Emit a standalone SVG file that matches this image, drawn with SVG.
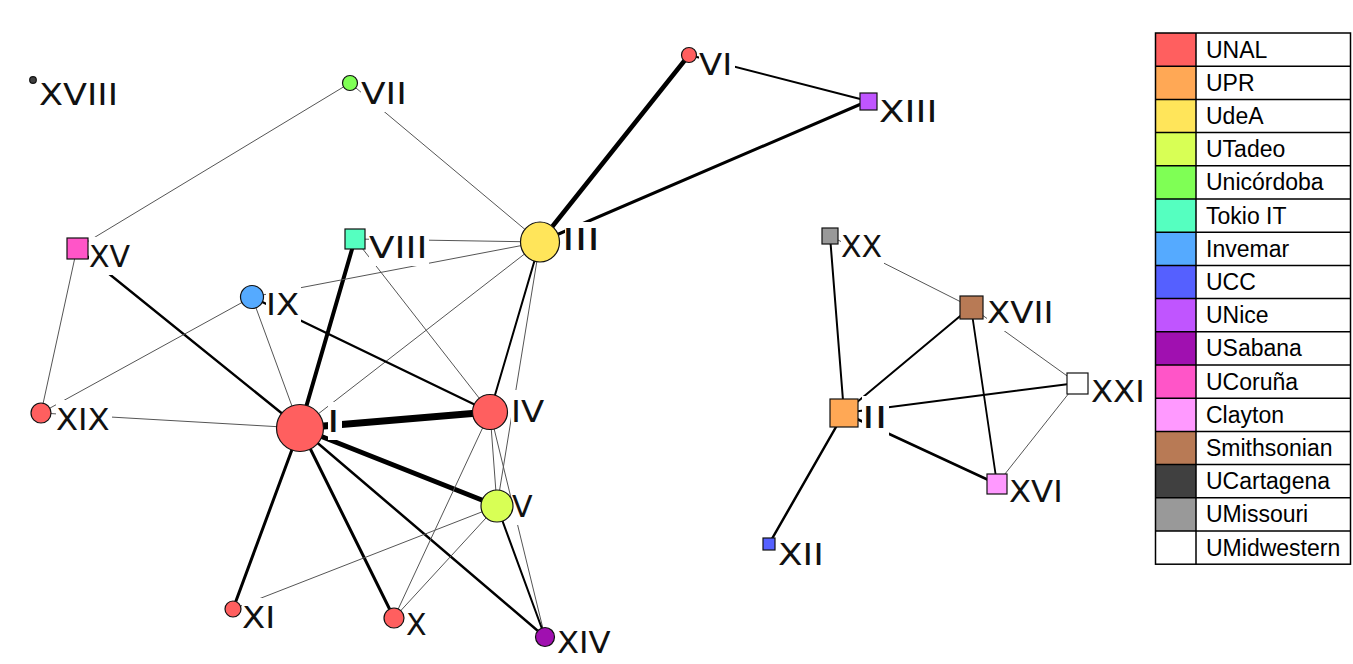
<svg xmlns="http://www.w3.org/2000/svg" width="1353" height="664" viewBox="0 0 1353 664">
<style>
.e{stroke:#000;fill:none;stroke-linecap:round}
.t{stroke:#555;stroke-width:1;fill:none}
.n{stroke:#111;stroke-width:1.2}
.bg{fill:#fff}
.lb{font-family:"DejaVu Sans","Liberation Sans",sans-serif;font-size:30px;fill:#111}
.lg{font-family:"Liberation Sans",Arial,sans-serif;font-size:23px;fill:#000}
.c1{fill:#FF5F5F}.c2{fill:#FFA855}.c3{fill:#FFE55A}.c4{fill:#D8FF55}.c5{fill:#7FFF55}.c6{fill:#55FFC0}.c7{fill:#55AAFF}.c8{fill:#5560FF}.c9{fill:#C055FF}.c10{fill:#A010B0}.c11{fill:#FF55C8}.c12{fill:#FF99FF}.c13{fill:#B87A55}.c14{fill:#404040}.c15{fill:#999999}.c16{fill:#FFFFFF}
</style>
<rect width="1353" height="664" fill="#fff"/>
<g id="connectors">
<line class="e" x1="300" y1="428" x2="490" y2="412" stroke-width="7"/>
<line class="e" x1="300" y1="428" x2="497" y2="506" stroke-width="5"/>
<line class="e" x1="300" y1="428" x2="355" y2="239" stroke-width="4"/>
<line class="e" x1="300" y1="428" x2="77" y2="248" stroke-width="2.5"/>
<line class="e" x1="300" y1="428" x2="233" y2="609" stroke-width="3"/>
<line class="e" x1="300" y1="428" x2="394" y2="618" stroke-width="3"/>
<line class="e" x1="300" y1="428" x2="545" y2="637" stroke-width="2.5"/>
<line class="t" x1="300" y1="428" x2="252" y2="297"/>
<line class="t" x1="300" y1="428" x2="41" y2="413"/>
<line class="t" x1="300" y1="428" x2="540" y2="242"/>
<line class="e" x1="252" y1="297" x2="490" y2="412" stroke-width="2.2"/>
<line class="t" x1="252" y1="297" x2="540" y2="242"/>
<line class="t" x1="252" y1="297" x2="41" y2="413"/>
<line class="t" x1="355" y1="239" x2="540" y2="242"/>
<line class="t" x1="355" y1="239" x2="490" y2="412"/>
<line class="e" x1="540" y1="242" x2="490" y2="412" stroke-width="2"/>
<line class="t" x1="540" y1="242" x2="497" y2="506"/>
<line class="e" x1="540" y1="242" x2="689" y2="55" stroke-width="4.5"/>
<line class="e" x1="540" y1="242" x2="868" y2="101" stroke-width="3"/>
<line class="e" x1="689" y1="55" x2="868" y2="101" stroke-width="2"/>
<line class="t" x1="350" y1="83" x2="540" y2="242"/>
<line class="t" x1="350" y1="83" x2="77" y2="248"/>
<line class="t" x1="77" y1="248" x2="41" y2="413"/>
<line class="t" x1="490" y1="412" x2="497" y2="506"/>
<line class="t" x1="490" y1="412" x2="394" y2="618"/>
<line class="t" x1="490" y1="412" x2="545" y2="637"/>
<line class="t" x1="497" y1="506" x2="394" y2="618"/>
<line class="t" x1="497" y1="506" x2="233" y2="609"/>
<line class="e" x1="497" y1="506" x2="545" y2="637" stroke-width="2"/>
<line class="e" x1="830" y1="236" x2="844" y2="413" stroke-width="2"/>
<line class="t" x1="830" y1="236" x2="971" y2="307"/>
<line class="e" x1="971" y1="307" x2="844" y2="413" stroke-width="2"/>
<line class="e" x1="971" y1="307" x2="997" y2="484" stroke-width="1.8"/>
<line class="t" x1="971" y1="307" x2="1077" y2="383"/>
<line class="e" x1="844" y1="413" x2="1077" y2="383" stroke-width="2"/>
<line class="e" x1="844" y1="413" x2="997" y2="484" stroke-width="2.5"/>
<line class="t" x1="1077" y1="383" x2="997" y2="484"/>
<line class="e" x1="844" y1="413" x2="769" y2="544" stroke-width="2.5"/>
</g>
<g id="label-bg">
<rect class="bg" x="39" y="75" width="81" height="38"/>
<rect class="bg" x="361" y="74" width="48" height="38"/>
<rect class="bg" x="699" y="45" width="36" height="38"/>
<rect class="bg" x="879" y="92" width="60" height="38"/>
<rect class="bg" x="89" y="237" width="43" height="38"/>
<rect class="bg" x="369" y="228" width="60" height="38"/>
<rect class="bg" x="565" y="222" width="37" height="36"/>
<rect class="bg" x="266" y="285" width="35" height="38"/>
<rect class="bg" x="56" y="400" width="56" height="38"/>
<rect class="bg" x="328" y="402" width="14" height="38"/>
<rect class="bg" x="511" y="390" width="35" height="40"/>
<rect class="bg" x="512" y="487" width="23" height="38"/>
<rect class="bg" x="242" y="598" width="35" height="38"/>
<rect class="bg" x="406" y="605" width="23" height="38"/>
<rect class="bg" x="557" y="623" width="56" height="38"/>
<rect class="bg" x="841" y="227" width="43" height="38"/>
<rect class="bg" x="987" y="293" width="68" height="38"/>
<rect class="bg" x="1091" y="372" width="56" height="38"/>
<rect class="bg" x="862" y="396" width="27" height="40"/>
<rect class="bg" x="1009" y="472" width="56" height="38"/>
<rect class="bg" x="778" y="535" width="48" height="38"/>
</g>
<g id="node-I"><circle class="n c1" cx="300" cy="428" r="23.5"/><text class="lb" x="327" y="432" textLength="12.6" lengthAdjust="spacingAndGlyphs">I</text></g>
<g id="node-II"><rect class="n c2" x="830" y="399" width="28" height="28"/><text class="lb" x="862" y="428" textLength="25.3" lengthAdjust="spacingAndGlyphs">II</text></g>
<g id="node-III"><ellipse class="n c3" cx="540" cy="242" rx="19.5" ry="20"/><text class="lb" x="562" y="250" textLength="37.9" lengthAdjust="spacingAndGlyphs">III</text></g>
<g id="node-IV"><circle class="n c1" cx="490" cy="412" r="17.5"/><text class="lb" x="511" y="422" textLength="33.2" lengthAdjust="spacingAndGlyphs">IV</text></g>
<g id="node-V"><circle class="n c4" cx="497" cy="506" r="16"/><text class="lb" x="512" y="517" textLength="20.6" lengthAdjust="spacingAndGlyphs">V</text></g>
<g id="node-VI"><circle class="n c1" cx="689" cy="55" r="7.5"/><text class="lb" x="699" y="75" textLength="33.2" lengthAdjust="spacingAndGlyphs">VI</text></g>
<g id="node-VII"><circle class="n c5" cx="350" cy="83" r="7.5"/><text class="lb" x="361" y="104" textLength="45.8" lengthAdjust="spacingAndGlyphs">VII</text></g>
<g id="node-VIII"><rect class="n c6" x="345" y="229" width="20" height="20"/><text class="lb" x="369" y="258" textLength="58.4" lengthAdjust="spacingAndGlyphs">VIII</text></g>
<g id="node-IX"><circle class="n c7" cx="252" cy="297" r="11.5"/><text class="lb" x="266" y="315" textLength="33.2" lengthAdjust="spacingAndGlyphs">IX</text></g>
<g id="node-X"><circle class="n c1" cx="394" cy="618" r="10"/><text class="lb" x="406" y="635" textLength="20.6" lengthAdjust="spacingAndGlyphs">X</text></g>
<g id="node-XI"><circle class="n c1" cx="233" cy="609" r="8"/><text class="lb" x="242" y="628" textLength="33.2" lengthAdjust="spacingAndGlyphs">XI</text></g>
<g id="node-XII"><rect class="n c8" x="763" y="538" width="12" height="12"/><text class="lb" x="778" y="565" textLength="45.8" lengthAdjust="spacingAndGlyphs">XII</text></g>
<g id="node-XIII"><rect class="n c9" x="860" y="93" width="17" height="17"/><text class="lb" x="879" y="122" textLength="58.4" lengthAdjust="spacingAndGlyphs">XIII</text></g>
<g id="node-XIV"><circle class="n c10" cx="545" cy="637" r="9.5"/><text class="lb" x="557" y="653" textLength="53.7" lengthAdjust="spacingAndGlyphs">XIV</text></g>
<g id="node-XV"><rect class="n c11" x="67" y="238" width="21" height="21"/><text class="lb" x="89" y="267" textLength="41.1" lengthAdjust="spacingAndGlyphs">XV</text></g>
<g id="node-XVI"><rect class="n c12" x="987" y="474" width="20" height="20"/><text class="lb" x="1009" y="502" textLength="53.7" lengthAdjust="spacingAndGlyphs">XVI</text></g>
<g id="node-XVII"><rect class="n c13" x="960" y="296" width="23" height="23"/><text class="lb" x="987" y="323" textLength="66.4" lengthAdjust="spacingAndGlyphs">XVII</text></g>
<g id="node-XVIII"><circle class="n c14" cx="33" cy="80" r="3.3"/><text class="lb" x="39" y="105" textLength="79" lengthAdjust="spacingAndGlyphs">XVIII</text></g>
<g id="node-XIX"><circle class="n c1" cx="41" cy="413" r="10"/><text class="lb" x="56" y="430" textLength="53.7" lengthAdjust="spacingAndGlyphs">XIX</text></g>
<g id="node-XX"><rect class="n c15" x="822" y="228" width="16" height="16"/><text class="lb" x="841" y="257" textLength="41.1" lengthAdjust="spacingAndGlyphs">XX</text></g>
<g id="node-XXI"><rect class="n c16" x="1067" y="373" width="21" height="21"/><text class="lb" x="1091" y="402" textLength="53.7" lengthAdjust="spacingAndGlyphs">XXI</text></g>
<g id="legend">
<rect class="c1" x="1156" y="33" width="40" height="33.2"/>
<rect class="c2" x="1156" y="66.2" width="40" height="33.2"/>
<rect class="c3" x="1156" y="99.4" width="40" height="33.2"/>
<rect class="c4" x="1156" y="132.6" width="40" height="33.2"/>
<rect class="c5" x="1156" y="165.8" width="40" height="33.2"/>
<rect class="c6" x="1156" y="199" width="40" height="33.2"/>
<rect class="c7" x="1156" y="232.2" width="40" height="33.2"/>
<rect class="c8" x="1156" y="265.4" width="40" height="33.2"/>
<rect class="c9" x="1156" y="298.6" width="40" height="33.2"/>
<rect class="c10" x="1156" y="331.8" width="40" height="33.2"/>
<rect class="c11" x="1156" y="365" width="40" height="33.2"/>
<rect class="c12" x="1156" y="398.2" width="40" height="33.2"/>
<rect class="c13" x="1156" y="431.4" width="40" height="33.2"/>
<rect class="c14" x="1156" y="464.6" width="40" height="33.2"/>
<rect class="c15" x="1156" y="497.8" width="40" height="33.2"/>
<rect class="c16" x="1156" y="531" width="40" height="33.2"/>
<g stroke="#000" stroke-width="1.5" fill="none">
<rect x="1155.5" y="33" width="195" height="531.2"/>
<line x1="1196" y1="33" x2="1196" y2="564.2"/>
<path d="M1155.5 66.2H1350.5M1155.5 99.4H1350.5M1155.5 132.6H1350.5M1155.5 165.8H1350.5M1155.5 199H1350.5M1155.5 232.2H1350.5M1155.5 265.4H1350.5M1155.5 298.6H1350.5M1155.5 331.8H1350.5M1155.5 365H1350.5M1155.5 398.2H1350.5M1155.5 431.4H1350.5M1155.5 464.6H1350.5M1155.5 497.8H1350.5M1155.5 531H1350.5"/>
</g>
<text class="lg" x="1206" y="57.5">UNAL</text>
<text class="lg" x="1206" y="90.7">UPR</text>
<text class="lg" x="1206" y="123.9">UdeA</text>
<text class="lg" x="1206" y="157.1">UTadeo</text>
<text class="lg" x="1206" y="190.3">Unicórdoba</text>
<text class="lg" x="1206" y="223.5">Tokio IT</text>
<text class="lg" x="1206" y="256.7">Invemar</text>
<text class="lg" x="1206" y="289.9">UCC</text>
<text class="lg" x="1206" y="323.1">UNice</text>
<text class="lg" x="1206" y="356.3">USabana</text>
<text class="lg" x="1206" y="389.5">UCoruña</text>
<text class="lg" x="1206" y="422.7">Clayton</text>
<text class="lg" x="1206" y="455.9">Smithsonian</text>
<text class="lg" x="1206" y="489.1">UCartagena</text>
<text class="lg" x="1206" y="522.3">UMissouri</text>
<text class="lg" x="1206" y="555.5">UMidwestern</text>
</g>
</svg>
